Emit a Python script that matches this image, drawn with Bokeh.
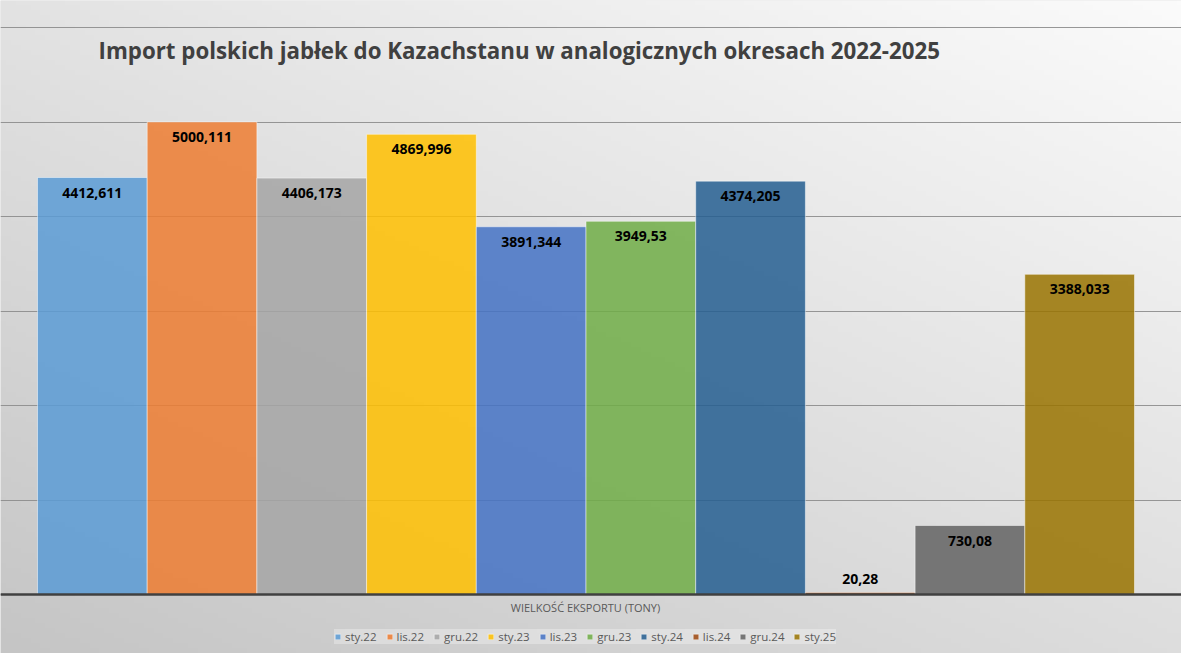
import numpy as np
from bokeh.plotting import figure
from bokeh.models import (ColumnDataSource, Range1d, Grid, FixedTicker, Span,
                          Legend, LegendItem, Label)
from bokeh.core.properties import value
from bokeh.embed import file_html
from bokeh.resources import INLINE

# ---- data ----
categories = ["sty.22", "lis.22", "gru.22", "sty.23", "lis.23",
              "gru.23", "sty.24", "lis.24", "gru.24", "sty.25"]
values = [4412.611, 5000.111, 4406.173, 4869.996, 3891.344,
          3949.53, 4374.205, 20.28, 730.08, 3388.033]
colors = ["#5B9BD5", "#ED7D31", "#A5A5A5", "#FFC000", "#4472C4",
          "#70AD47", "#255E91", "#9E480E", "#636363", "#997300"]
grid_ticks = [0, 1000, 2000, 3000, 4000, 5000, 6000]
title_text = "Import polskich jabłek do Kazachstanu w analogicznych okresach 2022-2025"
axis_title = "WIELKOŚĆ EKSPORTU (TONY)"

# ---- layout ----
W, H = 1181, 653
PXX = 109.7          # pixels per category unit
PXY = 0.0945         # pixels per ton
XS = -0.5 - 37 / PXX
XE = XS + W / PXX
YS = -(H - 594) / PXY
YE = YS + H / PXY

def px2x(px):
    return XS + px / PXX

def py2y(py):  # py from top
    return YE - py / PXY

labels = [str(v).replace(".", ",") for v in values]
label_y = [v - 15 / PXY if v > 400 else v + 14 / PXY for v in values]

src = ColumnDataSource(dict(
    x=list(range(len(categories))), top=values, color=colors,
    label=labels, ly=label_y, cat=categories))

p = figure(width=W, height=H, output_backend="svg", toolbar_location=None,
           x_range=Range1d(XS, XE), y_range=Range1d(YS, YE),
           x_axis_type=None, y_axis_type=None,
           min_border=0, min_border_left=0, min_border_right=0,
           min_border_top=0, min_border_bottom=0)
p.outline_line_color = None
p.background_fill_color = "#e0e0e0"
p.border_fill_color = "#e0e0e0"

# gradient background
gw, gh = 240, 130
xx = np.linspace(0, 1, gw)[None, :]
yy = np.linspace(0, 1, gh)[:, None]  # 0 = bottom
t = (1 - xx) * 0.45 + (1 - yy) * 0.55
g = np.clip(251 - 54 * t, 0, 255).astype(np.uint32)
img = (255 << 24) | (g << 16) | (g << 8) | g
img = img.astype(np.uint32)
bg = p.image_rgba(image=[img], x=XS, y=YS, dw=XE - XS, dh=YE - YS)
bg.level = "image"

grid = Grid(dimension=1, ticker=FixedTicker(ticks=grid_ticks),
            grid_line_color="#8c8c8c", grid_line_width=1, grid_line_alpha=0.9)
p.add_layout(grid)

bars = p.vbar(x="x", top="top", width=1.0, bottom=0, source=src,
              fill_color="color", fill_alpha=0.85,
              line_color="white", line_width=0.8, line_alpha=0.6)

p.add_layout(Span(location=0, dimension="width", line_color="#404040",
                  line_width=2.5))

p.text(x="x", y="ly", text="label", source=src, text_align="center",
       text_baseline="middle", text_font=value("Open Sans"),
       text_font_style="bold", text_font_size="14px", text_color="#000000")

p.add_layout(Label(x=px2x(98), y=py2y(50), text=title_text,
                   text_font="Open Sans", text_font_style="bold",
                   text_font_size="22.3px", text_color="#404040",
                   text_align="left", text_baseline="middle"))

p.add_layout(Label(x=px2x(585), y=py2y(607), text=axis_title,
                   text_font="Open Sans", text_font_size="11px",
                   text_color="#595959", text_align="center",
                   text_baseline="middle"))

items = [LegendItem(label=c, renderers=[bars], index=i)
         for i, c in enumerate(categories)]
legend = Legend(items=items, orientation="horizontal", location=(334, 9),
                background_fill_color="#ffffff", background_fill_alpha=0.3,
                border_line_color=None, label_text_font="Open Sans",
                label_text_font_size="11.5px", label_text_color="#595959",
                glyph_width=7, glyph_height=7, label_standoff=4, spacing=9,
                padding=3, margin=0, label_height=13)
p.add_layout(legend, "center")

open("out.html", "w").write(file_html(p, INLINE))
